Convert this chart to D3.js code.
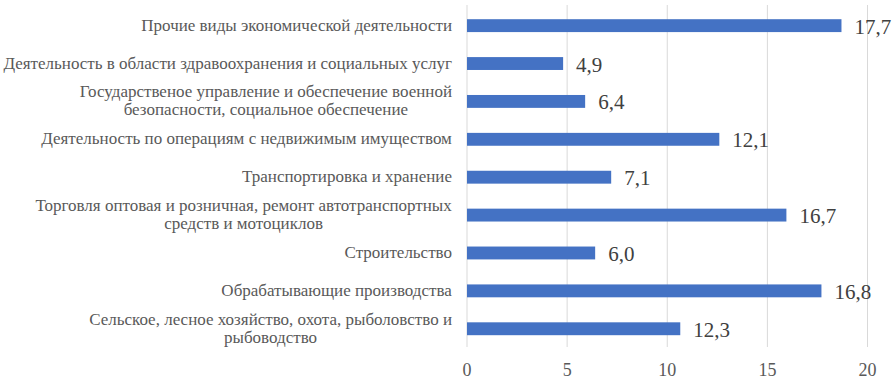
<!DOCTYPE html>
<html><head><meta charset="utf-8">
<script src="https://cdn.jsdelivr.net/npm/d3@7"></script>
</head><body style="margin:0">
<svg id="chart" width="896" height="380" font-family="Liberation Serif" style="display:block"></svg>
<script>
const categories = [
  ["Прочие виды экономической деятельности"],
  ["Деятельность в области здравоохранения и социальных услуг"],
  ["Государственое управление и обеспечение военной", "безопасности, социальное обеспечение"],
  ["Деятельность по операциям с недвижимым имуществом"],
  ["Транспортировка и хранение"],
  ["Торговля оптовая и розничная, ремонт автотранспортных", "средств и мотоциклов"],
  ["Строительство"],
  ["Обрабатывающие производства"],
  ["Сельское, лесное хозяйство, охота, рыболовство и", "рыбоводство"]
];
// bar lengths as drawn in the picture
const barValues = [18.7, 4.8, 5.9, 12.6, 7.2, 15.95, 6.4, 17.7, 10.65];
// printed data labels
const valueLabels = ["17,7", "4,9", "6,4", "12,1", "7,1", "16,7", "6,0", "16,8", "12,3"];
const tickValues = [0, 5, 10, 15, 20];
const tickLabels = ["0", "5", "10", "15", "20"];

const svg = d3.select("#chart");
const font = "Liberation Serif";
const x = d3.scaleLinear().domain([0, 20]).range([467, 867.5]);
const y = d3.scaleBand().domain(d3.range(categories.length)).range([6.7, 347.7])
  .paddingInner(0.66).paddingOuter(0.33);

// gridlines
svg.append("g").selectAll("line").data(tickValues).join("line")
  .attr("x1", d => x(d)).attr("x2", d => x(d))
  .attr("y1", 5).attr("y2", 347)
  .attr("stroke", "#d9d9d9").attr("stroke-width", 1);

// bars
svg.append("g").selectAll("rect").data(barValues).join("rect")
  .attr("x", x(0)).attr("y", (d, i) => y(i))
  .attr("width", d => x(d) - x(0)).attr("height", y.bandwidth())
  .attr("fill", "#4472c4");

// value labels
svg.append("g").selectAll("text").data(barValues).join("text")
  .attr("x", d => x(d) + 13).attr("y", (d, i) => y(i) + y.bandwidth() / 2 + 8)
  .attr("font-family", font).attr("font-size", 21).attr("fill", "#404040")
  .text((d, i) => valueLabels[i]);

// category labels (centered block, right aligned)
const catG = svg.append("g");
categories.forEach((lines, i) => {
  const cy = y(i) + y.bandwidth() / 2;
  const lh = 18;
  const g = catG.append("g");
  const t = g.append("text").attr("font-family", font).attr("font-size", 17)
    .attr("fill", "#595959").attr("text-anchor", "middle");
  lines.forEach((ln, j) => {
    t.append("tspan").attr("x", 0)
      .attr("y", cy + 5 + (j - (lines.length - 1) / 2) * lh)
      .text(ln);
  });
  const w = t.node().getBBox().width;
  g.attr("transform", `translate(${452 - w / 2},0)`);
});

// x tick labels
svg.append("g").selectAll("text").data(tickValues).join("text")
  .attr("x", d => x(d)).attr("y", 376)
  .attr("text-anchor", "middle")
  .attr("font-family", font).attr("font-size", 18).attr("fill", "#595959")
  .text((d, i) => tickLabels[i]);
</script>
</body></html>
